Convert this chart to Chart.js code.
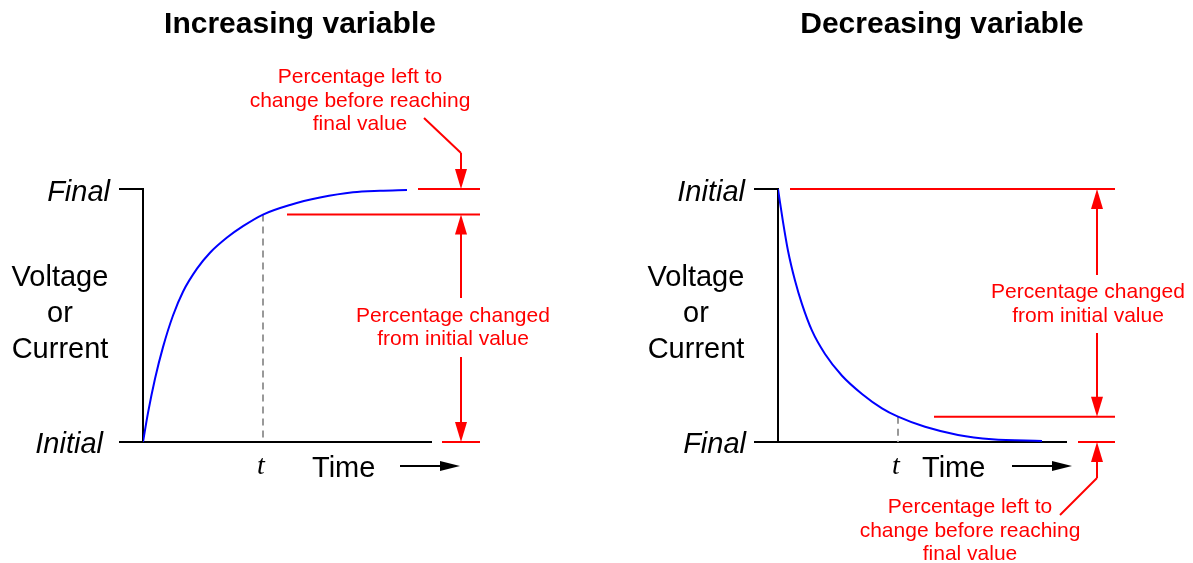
<!DOCTYPE html>
<html>
<head>
<meta charset="utf-8">
<script src="https://cdn.jsdelivr.net/npm/chart.js@4/dist/chart.umd.min.js"></script>
<style>
  body { margin: 0; background: #fff; }
  .panel { position: absolute; left: 0; top: 0; width: 1193px; height: 563px; }
</style>
</head>
<body>
<div class="panel"><canvas id="rise"></canvas></div>
<div class="panel"><canvas id="fall"></canvas></div>
<script>
// valores (tiempo en constantes de tiempo aprox., valor en % del cambio total)
const timeRise = [0, 0.1, 0.24, 0.4, 0.6, 0.8, 1.08, 1.34, 1.68, 2.0, 2.4, 2.94, 3.54, 4.2, 4.74, 5.28];
const valueRise = [0, 11.5, 25.0, 37.5, 50.0, 59.4, 68.5, 74.8, 80.8, 85.3, 89.9, 93.7, 96.6, 98.7, 99.3, 99.6];
const timeFall = [0, 0.1, 0.2, 0.34, 0.48, 0.68, 0.94, 1.28, 1.68, 2.08, 2.4, 2.94, 3.6, 4.28, 5.28];
const valueFall = [100, 87.0, 75.6, 63.8, 54.5, 44.0, 34.8, 26.2, 19.0, 13.3, 10.0, 6.0, 2.8, 1.1, 0.4];
const tMark = 2.4;
const riseAtT = 89.9;
const fallAtT = 10.0;
const timeMax = 5.78;

const RED = "#ff0000";
const SANS = "'Liberation Sans', Arial, sans-serif";

function line(ctx, x1, y1, x2, y2) {
    ctx.beginPath();
    ctx.moveTo(x1, y1);
    ctx.lineTo(x2, y2);
    ctx.stroke();
}

// punta de flecha vertical: dir = 1 apunta hacia abajo, -1 hacia arriba
function vHead(ctx, x, yTip, dir) {
    ctx.beginPath();
    ctx.moveTo(x, yTip);
    ctx.lineTo(x - 6, yTip - dir * 20);
    ctx.lineTo(x + 6, yTip - dir * 20);
    ctx.closePath();
    ctx.fill();
}

function text(ctx, s, x, y, font, color, align) {
    ctx.font = font;
    ctx.fillStyle = color;
    ctx.textAlign = align;
    ctx.textBaseline = "alphabetic";
    ctx.fillText(s, x, y);
}

function lines(ctx, arr, x, y0, step, font, color) {
    arr.forEach((s, i) => text(ctx, s, x, y0 + i * step, font, color, "center"));
}

function axesPlugin(kind) {
    return {
        id: "axes_" + kind,
        beforeDatasetsDraw(chart) {
            const { ctx, chartArea: a, scales: { x, y } } = chart;
            ctx.save();
            ctx.strokeStyle = "#000";
            ctx.lineWidth = 2;
            ctx.beginPath();
            ctx.moveTo(a.left - 24, a.top);
            ctx.lineTo(a.left, a.top);
            ctx.lineTo(a.left, a.bottom);
            ctx.moveTo(a.left - 24, a.bottom);
            ctx.lineTo(a.right, a.bottom);
            ctx.stroke();

            // linea punteada en t
            const vt = kind === "rise" ? riseAtT : fallAtT;
            ctx.strokeStyle = "#999";
            ctx.setLineDash([7, 5]);
            line(ctx, x.getPixelForValue(tMark), y.getPixelForValue(vt), x.getPixelForValue(tMark), a.bottom);
            ctx.restore();
        },
        afterDatasetsDraw(chart) {
            const { ctx, chartArea: a, scales: { x, y } } = chart;
            const L = a.left, R = a.right;
            const yTop = y.getPixelForValue(100), yBot = y.getPixelForValue(0);
            const tx = x.getPixelForValue(tMark);
            ctx.save();
            const big = "29px " + SANS, bigI = "italic 29px " + SANS;
            const red = "21px " + SANS;

            // textos negros
            text(ctx, kind === "rise" ? "Increasing variable" : "Decreasing variable",
                 kind === "rise" ? 300 : 942, 33, "bold 30px " + SANS, "#000", "center");
            text(ctx, kind === "rise" ? "Final" : "Initial", L - 33, yTop + 12, bigI, "#000", "right");
            text(ctx, kind === "rise" ? "Initial" : "Final", L - (kind === "rise" ? 40 : 32), yBot + 11, bigI, "#000", "right");
            lines(ctx, ["Voltage", "or", "Current"], L - (kind === "rise" ? 83 : 82), 286, 36, big, "#000");
            text(ctx, "t", tx - 2, yBot + 32, "italic 28px 'Liberation Serif', 'Times New Roman', serif", "#000", "center");
            text(ctx, "Time", tx + 49 - (kind === "rise" ? 0 : 25), yBot + 35, big, "#000", "left");
            const ax0 = kind === "rise" ? 400 : 1012, ay = yBot + 24;
            ctx.strokeStyle = "#000";
            ctx.fillStyle = "#000";
            ctx.lineWidth = 2;
            line(ctx, ax0, ay, ax0 + 45, ay);
            ctx.beginPath();
            ctx.moveTo(ax0 + 60, ay);
            ctx.lineTo(ax0 + 40, ay - 5);
            ctx.lineTo(ax0 + 40, ay + 5);
            ctx.closePath();
            ctx.fill();

            // anotaciones rojas
            ctx.strokeStyle = RED;
            ctx.fillStyle = RED;
            ctx.lineWidth = 2;
            if (kind === "rise") {
                const yT = y.getPixelForValue(riseAtT);
                const ax = R + 29, xe = R + 48;
                line(ctx, R - 14, yTop, xe, yTop);
                line(ctx, tx + 24, yT, xe, yT);
                line(ctx, R + 10, yBot, xe, yBot);
                line(ctx, ax, yT + 18, ax, 298);
                line(ctx, ax, 357, ax, yBot - 18);
                vHead(ctx, ax, yT, -1);
                vHead(ctx, ax, yBot, 1);
                line(ctx, 424, 118, ax, 153);
                line(ctx, ax, 153, ax, yTop - 18);
                vHead(ctx, ax, yTop, 1);
                lines(ctx, ["Percentage left to", "change before reaching", "final value"], 360, 83, 23.5, red, RED);
                lines(ctx, ["Percentage changed", "from initial value"], 453, 322, 23, red, RED);
            } else {
                const yT = y.getPixelForValue(fallAtT);
                const ax = R + 30, xe = R + 48;
                line(ctx, L + 12, yTop, xe, yTop);
                line(ctx, tx + 36, yT, xe, yT);
                line(ctx, R + 11, yBot, xe, yBot);
                line(ctx, ax, yTop + 18, ax, 275);
                line(ctx, ax, 333, ax, yT - 18);
                vHead(ctx, ax, yTop, -1);
                vHead(ctx, ax, yT, 1);
                vHead(ctx, ax, yBot, -1);
                line(ctx, ax, yBot + 18, ax, 478);
                line(ctx, ax, 478, 1060, 515);
                lines(ctx, ["Percentage changed", "from initial value"], 1088, 298, 24, red, RED);
                lines(ctx, ["Percentage left to", "change before reaching", "final value"], 970, 513, 23.5, red, RED);
            }
            ctx.restore();
        }
    };
}

function makeChart(id, kind, times, values, pad) {
    const ctx = document.getElementById(id).getContext("2d");
    return new Chart(ctx, {
        type: "line",
        data: {
            datasets: [{
                data: times.map((t, i) => ({ x: t, y: values[i] })),
                borderColor: "#0000ff",
                borderWidth: 2,
                pointRadius: 0,
                fill: false,
                cubicInterpolationMode: "monotone"
            }]
        },
        options: {
            responsive: true,
            maintainAspectRatio: false,
            animation: false,
            events: [],
            layout: { padding: pad },
            plugins: { legend: { display: false }, tooltip: { enabled: false } },
            scales: {
                x: { type: "linear", min: 0, max: timeMax, display: false },
                y: { min: 0, max: 100, display: false }
            }
        },
        plugins: [axesPlugin(kind)]
    });
}

makeChart("rise", "rise", timeRise, valueRise, { left: 143, right: 761, top: 189, bottom: 121 });
makeChart("fall", "fall", timeFall, valueFall, { left: 778, right: 126, top: 189, bottom: 121 });
</script>
</body>
</html>
